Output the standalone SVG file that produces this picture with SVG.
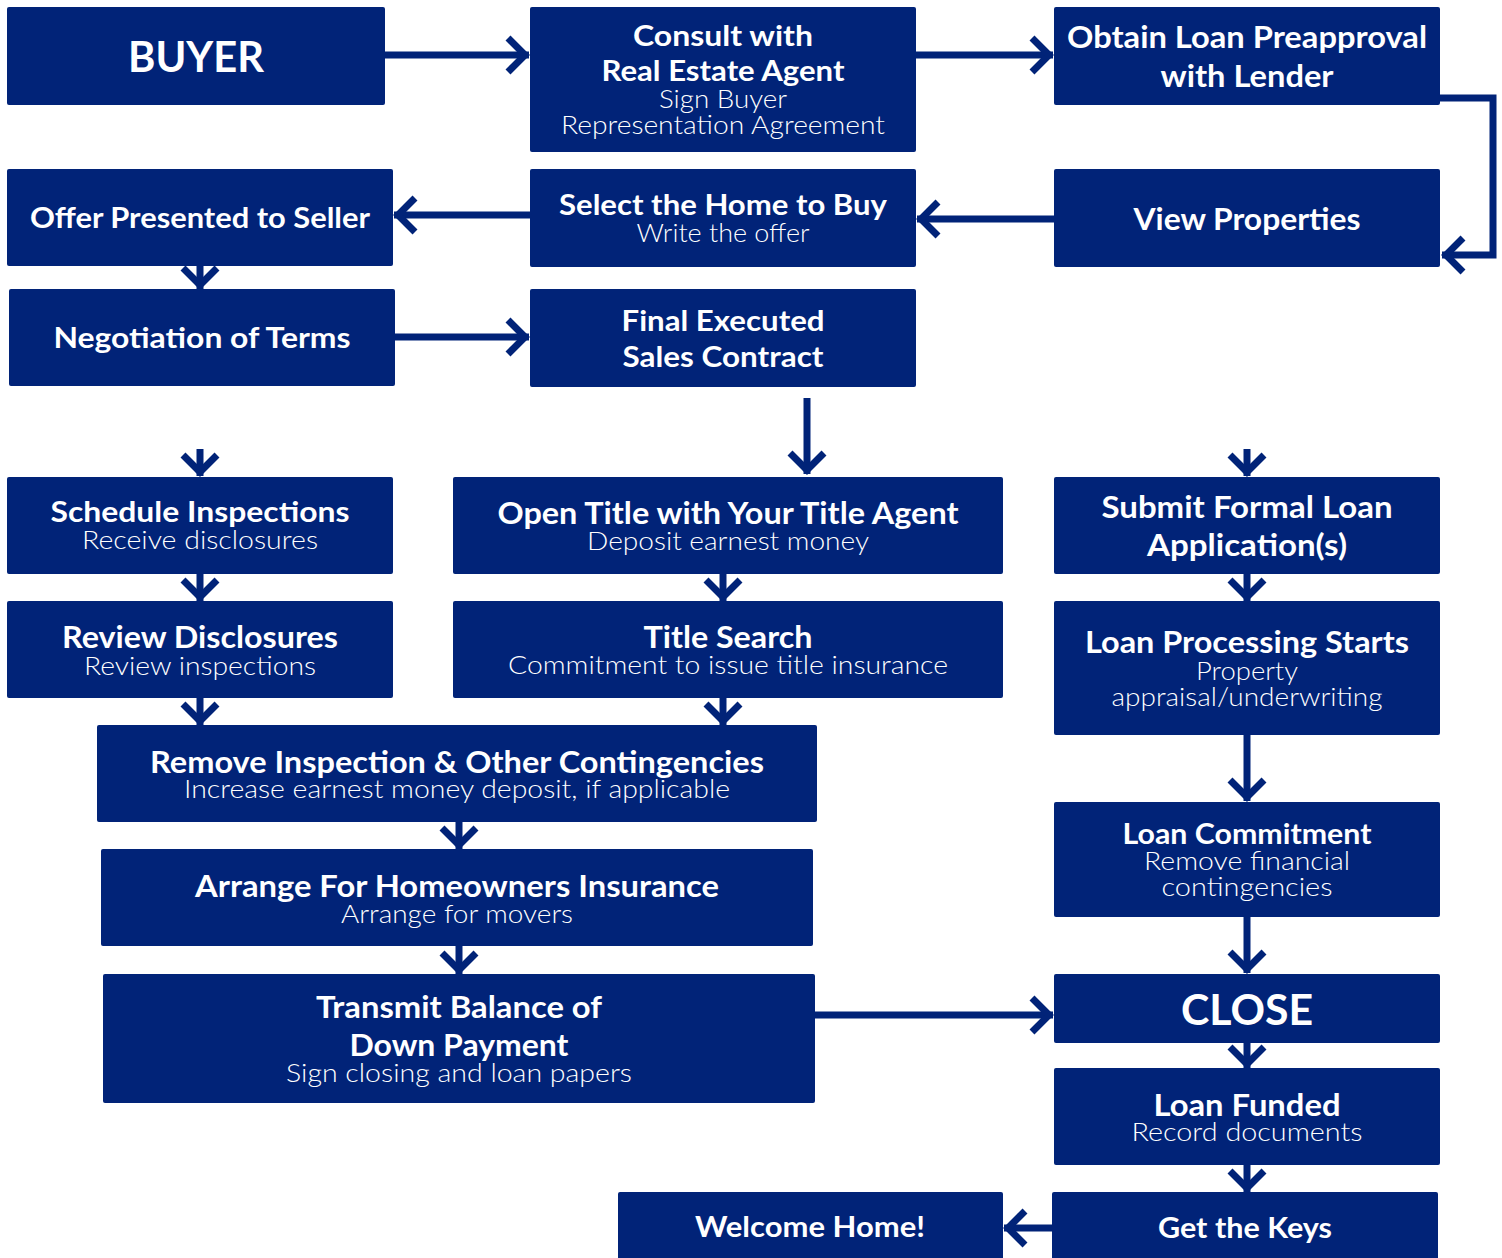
<svg xmlns="http://www.w3.org/2000/svg" width="1502" height="1258" viewBox="0 0 1502 1258">
<defs>
<style>
.box{fill:#012378}
.t{font-family:Lato,"Open Sans","Liberation Sans",sans-serif;fill:#fff;text-anchor:middle}
.b{font-weight:700}
.l{font-weight:300}
.c{fill:none;stroke:#012378;stroke-width:7;marker-end:url(#ah)}
</style>
<marker id="ah" markerUnits="userSpaceOnUse" viewBox="-30 -25 40 50" markerWidth="40" markerHeight="50" refX="0" refY="0" orient="auto" overflow="visible">
<path d="M-21,-17 L-4,0 L-21,17" fill="none" stroke="#012378" stroke-width="7"/>
</marker>
</defs>
<rect width="1502" height="1258" fill="#fff"/>
<g id="connectors">
<path class="c" d="M385,55 H529"/>
<path class="c" d="M916,55 H1053"/>
<path class="c" d="M1440,98 H1493 V255 H1442"/>
<path class="c" d="M1054,219 H917"/>
<path class="c" d="M530,215 H394"/>
<path class="c" d="M200,266 V289"/>
<path class="c" d="M395,337 H529"/>
<path class="c" d="M807,398 V474"/>
<path class="c" d="M200,449 V476"/>
<path class="c" d="M1247,449 V476"/>
<path class="c" d="M200,574 V601"/>
<path class="c" d="M723,574 V601"/>
<path class="c" d="M1247,574 V601"/>
<path class="c" d="M200,698 V725"/>
<path class="c" d="M723,698 V725"/>
<path class="c" d="M459,822 V849"/>
<path class="c" d="M459,946 V974"/>
<path class="c" d="M1247,735 V801"/>
<path class="c" d="M1247,917 V973"/>
<path class="c" d="M815,1015 H1053"/>
<path class="c" d="M1247,1043 V1068"/>
<path class="c" d="M1247,1165 V1192"/>
<path class="c" d="M1052,1228 H1004"/>
</g>
<g id="buyer"><rect class="box" x="7" y="7" width="378" height="98" rx="2"/>
<text class="t b" x="196" y="72" font-size="42" textLength="136" lengthAdjust="spacingAndGlyphs">BUYER</text></g>
<g id="consult"><rect class="box" x="530" y="7" width="386" height="145" rx="2"/>
<text class="t b" x="723" y="46" font-size="28" textLength="180" lengthAdjust="spacingAndGlyphs">Consult with</text>
<text class="t b" x="723" y="81" font-size="28" textLength="243" lengthAdjust="spacingAndGlyphs">Real Estate Agent</text>
<text class="t l" x="723" y="108" font-size="25" textLength="128" lengthAdjust="spacingAndGlyphs">Sign Buyer</text>
<text class="t l" x="723" y="134" font-size="25" textLength="324" lengthAdjust="spacingAndGlyphs">Representation Agreement</text></g>
<g id="preapproval"><rect class="box" x="1054" y="7" width="386" height="98" rx="2"/>
<text class="t b" x="1247" y="48" font-size="30" textLength="360" lengthAdjust="spacingAndGlyphs">Obtain Loan Preapproval</text>
<text class="t b" x="1247" y="87" font-size="30" textLength="173" lengthAdjust="spacingAndGlyphs">with Lender</text></g>
<g id="offer"><rect class="box" x="7" y="169" width="386" height="97" rx="2"/>
<text class="t b" x="200" y="228" font-size="28" textLength="340" lengthAdjust="spacingAndGlyphs">Offer Presented to Seller</text></g>
<g id="select"><rect class="box" x="530" y="169" width="386" height="98" rx="2"/>
<text class="t b" x="723" y="215" font-size="28" textLength="328" lengthAdjust="spacingAndGlyphs">Select the Home to Buy</text>
<text class="t l" x="723" y="242" font-size="25" textLength="173" lengthAdjust="spacingAndGlyphs">Write the offer</text></g>
<g id="view"><rect class="box" x="1054" y="169" width="386" height="98" rx="2"/>
<text class="t b" x="1247" y="230" font-size="30" textLength="227" lengthAdjust="spacingAndGlyphs">View Properties</text></g>
<g id="negotiation"><rect class="box" x="9" y="289" width="386" height="97" rx="2"/>
<text class="t b" x="202" y="348" font-size="28" textLength="297" lengthAdjust="spacingAndGlyphs">Negotiation of Terms</text></g>
<g id="contract"><rect class="box" x="530" y="289" width="386" height="98" rx="2"/>
<text class="t b" x="723" y="331" font-size="28" textLength="203" lengthAdjust="spacingAndGlyphs">Final Executed</text>
<text class="t b" x="723" y="367" font-size="28" textLength="201" lengthAdjust="spacingAndGlyphs">Sales Contract</text></g>
<g id="inspections"><rect class="box" x="7" y="477" width="386" height="97" rx="2"/>
<text class="t b" x="200" y="522" font-size="28" textLength="299" lengthAdjust="spacingAndGlyphs">Schedule Inspections</text>
<text class="t l" x="200" y="549" font-size="25" textLength="236" lengthAdjust="spacingAndGlyphs">Receive disclosures</text></g>
<g id="opentitle"><rect class="box" x="453" y="477" width="550" height="97" rx="2"/>
<text class="t b" x="728" y="524" font-size="30" textLength="461" lengthAdjust="spacingAndGlyphs">Open Title with Your Title Agent</text>
<text class="t l" x="728" y="550" font-size="25" textLength="282" lengthAdjust="spacingAndGlyphs">Deposit earnest money</text></g>
<g id="loanapp"><rect class="box" x="1054" y="477" width="386" height="97" rx="2"/>
<text class="t b" x="1247" y="518" font-size="30" textLength="291" lengthAdjust="spacingAndGlyphs">Submit Formal Loan</text>
<text class="t b" x="1247" y="556" font-size="30" textLength="200" lengthAdjust="spacingAndGlyphs">Application(s)</text></g>
<g id="disclosures"><rect class="box" x="7" y="601" width="386" height="97" rx="2"/>
<text class="t b" x="200" y="648" font-size="30" textLength="276" lengthAdjust="spacingAndGlyphs">Review Disclosures</text>
<text class="t l" x="200" y="675" font-size="25" textLength="232" lengthAdjust="spacingAndGlyphs">Review inspections</text></g>
<g id="titlesearch"><rect class="box" x="453" y="601" width="550" height="97" rx="2"/>
<text class="t b" x="728" y="648" font-size="30" textLength="169" lengthAdjust="spacingAndGlyphs">Title Search</text>
<text class="t l" x="728" y="674" font-size="25" textLength="440" lengthAdjust="spacingAndGlyphs">Commitment to issue title insurance</text></g>
<g id="processing"><rect class="box" x="1054" y="601" width="386" height="134" rx="2"/>
<text class="t b" x="1247" y="653" font-size="30" textLength="324" lengthAdjust="spacingAndGlyphs">Loan Processing Starts</text>
<text class="t l" x="1247" y="680" font-size="25" textLength="102" lengthAdjust="spacingAndGlyphs">Property</text>
<text class="t l" x="1247" y="706" font-size="25" textLength="271" lengthAdjust="spacingAndGlyphs">appraisal/underwriting</text></g>
<g id="contingencies"><rect class="box" x="97" y="725" width="720" height="97" rx="2"/>
<text class="t b" x="457" y="773" font-size="30" textLength="614" lengthAdjust="spacingAndGlyphs">Remove Inspection &amp; Other Contingencies</text>
<text class="t l" x="457" y="798" font-size="25" textLength="546" lengthAdjust="spacingAndGlyphs">Increase earnest money deposit, if applicable</text></g>
<g id="insurance"><rect class="box" x="101" y="849" width="712" height="97" rx="2"/>
<text class="t b" x="457" y="897" font-size="30" textLength="524" lengthAdjust="spacingAndGlyphs">Arrange For Homeowners Insurance</text>
<text class="t l" x="457" y="923" font-size="25" textLength="232" lengthAdjust="spacingAndGlyphs">Arrange for movers</text></g>
<g id="transmit"><rect class="box" x="103" y="974" width="712" height="129" rx="2"/>
<text class="t b" x="459" y="1018" font-size="30" textLength="286" lengthAdjust="spacingAndGlyphs">Transmit Balance of</text>
<text class="t b" x="459" y="1056" font-size="30" textLength="219" lengthAdjust="spacingAndGlyphs">Down Payment</text>
<text class="t l" x="459" y="1082" font-size="25" textLength="346" lengthAdjust="spacingAndGlyphs">Sign closing and loan papers</text></g>
<g id="commitment"><rect class="box" x="1054" y="802" width="386" height="115" rx="2"/>
<text class="t b" x="1247" y="844" font-size="28" textLength="249" lengthAdjust="spacingAndGlyphs">Loan Commitment</text>
<text class="t l" x="1247" y="870" font-size="25" textLength="206" lengthAdjust="spacingAndGlyphs">Remove financial</text>
<text class="t l" x="1247" y="896" font-size="25" textLength="171" lengthAdjust="spacingAndGlyphs">contingencies</text></g>
<g id="close"><rect class="box" x="1054" y="974" width="386" height="69" rx="2"/>
<text class="t b" x="1247" y="1025" font-size="42" textLength="132" lengthAdjust="spacingAndGlyphs">CLOSE</text></g>
<g id="funded"><rect class="box" x="1054" y="1068" width="386" height="97" rx="2"/>
<text class="t b" x="1247" y="1116" font-size="30" textLength="187" lengthAdjust="spacingAndGlyphs">Loan Funded</text>
<text class="t l" x="1247" y="1141" font-size="25" textLength="231" lengthAdjust="spacingAndGlyphs">Record documents</text></g>
<g id="keys"><rect class="box" x="1052" y="1192" width="386" height="70" rx="2"/>
<text class="t b" x="1245" y="1238" font-size="28" textLength="174" lengthAdjust="spacingAndGlyphs">Get the Keys</text></g>
<g id="welcome"><rect class="box" x="618" y="1192" width="385" height="70" rx="2"/>
<text class="t b" x="810" y="1237" font-size="28" textLength="230" lengthAdjust="spacingAndGlyphs">Welcome Home!</text></g>
</svg>
